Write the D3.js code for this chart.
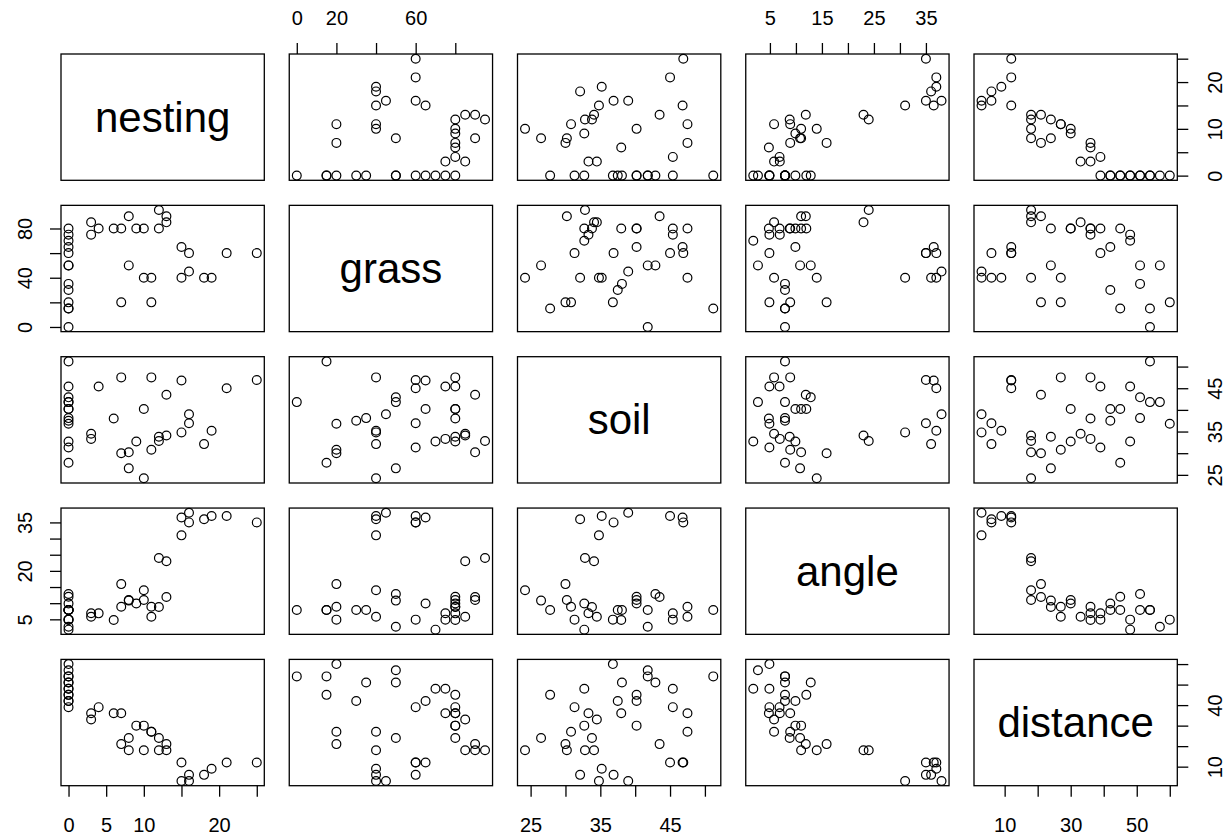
<!DOCTYPE html>
<html>
<head>
<meta charset="utf-8">
<script src="https://cdn.jsdelivr.net/npm/d3@7"></script>
<style>
  body { margin: 0; background: #fff; }
  text { font-family: "Liberation Sans", Arial, Helvetica, sans-serif; fill: #000; }
</style>
</head>
<body>
<svg id="chart" width="1226" height="838"></svg>
<script>
// Scatterplot matrix of the nesting survey variables (one circle per site)
const varNames = ["nesting", "grass", "soil", "angle", "distance"];

const nesting  = [16, 15, 18, 16, 19, 25, 21, 15, 13, 12, 10, 8, 7, 13, 12, 8, 11, 11, 10, 9,
                  3, 7, 6, 3, 4, 0, 0, 0, 0, 0, 0, 0, 0, 0, 0, 0, 0, 0];
const grass    = [45, 40, 40, 60, 40, 60, 60, 65, 85, 95, 40, 90, 20, 90, 80, 50, 20, 40, 80, 80,
                  85, 80, 80, 75, 80, 60, 65, 30, 80, 15, 75, 70, 50, 35, 15, 0, 50, 20];
const soil     = [39.0, 34.8, 32.1, 36.9, 35.2, 46.9, 45.0, 46.8, 34.1, 32.8, 24.2, 30.2, 30.0, 43.5,
                  33.8, 26.5, 30.8, 47.5, 40.2, 32.7, 34.5, 47.5, 38.0, 33.3, 45.4, 31.3, 40.2, 37.5,
                  40.2, 27.8, 45.4, 32.7, 42.9, 38.1, 51.2, 41.8, 41.8, 36.8];
const angle    = [38.0, 31.0, 36.0, 35.0, 37.0, 35.0, 37.0, 36.5, 23.0, 24.0, 14.0, 11.0, 15.9, 11.9,
                  8.8, 10.8, 8.9, 5.8, 11.0, 9.9, 5.8, 8.9, 4.8, 6.9, 6.85, 4.9, 9.9, 7.9,
                  12.0, 7.9, 4.9, 1.8, 12.85, 7.9, 7.9, 7.9, 2.7, 4.9];
const distance = [3, 3, 6, 6, 9, 12, 12, 12, 18, 18, 18, 18, 21, 21, 24, 24, 27, 27, 30, 30,
                  33, 36, 36, 36, 39, 39, 42, 42, 45, 45, 48, 48, 51, 51, 54, 54, 57, 60];

// Tick positions per variable
const nestingTicks  = [0, 5, 10, 15, 20, 25];
const grassTicks    = [0, 20, 40, 60, 80];
const soilTicks     = [25, 30, 35, 40, 45, 50];
const angleTicks    = [5, 10, 15, 20, 25, 30, 35];
const distanceTicks = [10, 20, 30, 40, 50, 60];

// Tick labels printed on the horizontal (top/bottom) axes
const nestingXLabels  = [0, 5, 10, 20];
const grassXLabels    = [0, 20, 60];
const soilXLabels     = [25, 35, 45];
const angleXLabels    = [5, 15, 25, 35];
const distanceXLabels = [10, 30, 50];

// Tick labels printed on the vertical (left/right) axes
const nestingYLabels  = [0, 10, 20];
const grassYLabels    = [0, 40, 80];
const soilYLabels     = [25, 35, 45];
const angleYLabels    = [5, 20, 35];
const distanceYLabels = [10, 40];

const columns = [nesting, grass, soil, angle, distance];
const ticks   = [nestingTicks, grassTicks, soilTicks, angleTicks, distanceTicks];
const xLabels = [nestingXLabels, grassXLabels, soilXLabels, angleXLabels, distanceXLabels];
const yLabels = [nestingYLabels, grassYLabels, soilYLabels, angleYLabels, distanceYLabels];

// Panel grid geometry
const left0 = 61, stepX = 228.25, W = 203.3;
const top0 = 54, stepY = 151.35, H = 126.3;
const tickLen = 11;
const n = varNames.length;

function padded(vals) {
  const [lo, hi] = d3.extent(vals);
  const p = (hi - lo) * 0.04;
  return [lo - p, hi + p];
}
const xs = columns.map(v => d3.scaleLinear().domain(padded(v)).range([0, W]));
const ys = columns.map(v => d3.scaleLinear().domain(padded(v)).range([H, 0]));

const svg = d3.select("#chart");
svg.append("rect").attr("width", 1226).attr("height", 838).attr("fill", "#fff");

for (let i = 0; i < n; i++) {
  for (let j = 0; j < n; j++) {
    const g = svg.append("g")
      .attr("transform", `translate(${left0 + j * stepX},${top0 + i * stepY})`);

    if (i === j) {
      g.append("text")
        .attr("x", W / 2).attr("y", H / 2)
        .attr("text-anchor", "middle")
        .attr("dominant-baseline", "central")
        .style("font-size", "42px")
        .text(varNames[i]);
    } else {
      const xv = columns[j], yv = columns[i];
      g.selectAll("circle")
        .data(d3.range(xv.length))
        .join("circle")
        .attr("cx", k => xs[j](xv[k]))
        .attr("cy", k => ys[i](yv[k]))
        .attr("r", 4.4)
        .attr("fill", "none")
        .attr("stroke", "#000")
        .attr("stroke-width", 1.2);
    }

    g.append("rect")
      .attr("width", W).attr("height", H)
      .attr("fill", "none").attr("stroke", "#000").attr("stroke-width", 1.3);

    const fmtX = d => xLabels[j].includes(d) ? d : "";
    const fmtY = d => yLabels[i].includes(d) ? d : "";

    // horizontal axes alternate: top for even columns (1-based), bottom for odd
    if (i === 0 && j % 2 === 1) {
      const ax = g.append("g")
        .call(d3.axisTop(xs[j]).tickValues(ticks[j]).tickSize(tickLen).tickFormat(fmtX));
      ax.selectAll("text").attr("y", -29.5).attr("dy", null).style("font-size", "20px");
    }
    if (i === n - 1 && j % 2 === 0) {
      const ax = g.append("g").attr("transform", `translate(0,${H})`)
        .call(d3.axisBottom(xs[j]).tickValues(ticks[j]).tickSize(tickLen).tickFormat(fmtX));
      ax.selectAll("text").attr("y", 46.5).attr("dy", null).style("font-size", "20px");
    }
    // vertical axes alternate: left for even rows (1-based), right for odd
    if (j === 0 && i % 2 === 1) {
      const ax = g.append("g")
        .call(d3.axisLeft(ys[i]).tickValues(ticks[i]).tickSize(tickLen).tickFormat(fmtY));
      ax.selectAll("text")
        .attr("x", null).attr("dy", null)
        .attr("transform", "translate(-29.5,0) rotate(-90)")
        .attr("text-anchor", "middle").style("font-size", "20px");
    }
    if (j === n - 1 && i % 2 === 0) {
      const ax = g.append("g").attr("transform", `translate(${W},0)`)
        .call(d3.axisRight(ys[i]).tickValues(ticks[i]).tickSize(tickLen).tickFormat(fmtY));
      ax.selectAll("text")
        .attr("x", null).attr("dy", null)
        .attr("transform", "translate(44.5,0) rotate(-90)")
        .attr("text-anchor", "middle").style("font-size", "20px");
    }
  }
}

// tidy axis styling: no domain path (the panel box already draws that edge)
svg.selectAll(".domain").remove();
svg.selectAll(".tick line").attr("stroke", "#000").attr("stroke-width", 1.3);
svg.selectAll(".tick text").attr("fill", "#000").attr("font-family", null);
</script>
</body>
</html>
